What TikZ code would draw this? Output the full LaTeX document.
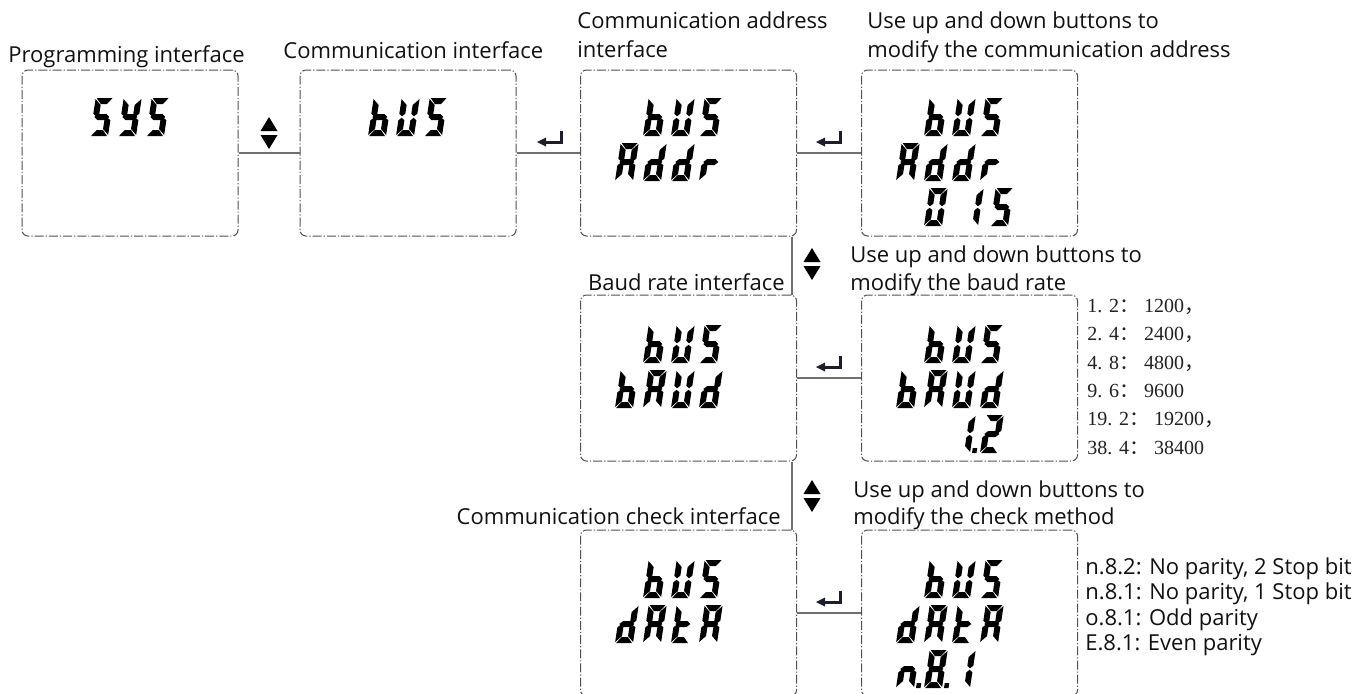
\documentclass[tikz,border=0pt]{standalone}
\usepackage{fontspec}
\setmainfont{Open Sans}
\newfontfamily\serifnum{Liberation Serif}
\newfontfamily\cjk{Noto Sans CJK SC}
\definecolor{boxgray}{HTML}{505050}
\definecolor{linegray}{HTML}{707070}
\definecolor{keyink}{HTML}{1C1E2C}
\definecolor{txt}{HTML}{111111}
\definecolor{numtxt}{HTML}{222222}

% seven-segment pieces, local units: origin at glyph bottom-left, y grows downwards
\newcommand\Sga{\fill (1,-38) -- (17,-38) -- (12,-32) -- (6,-32) -- cycle;}
\newcommand\Sgd{\fill (1,0) -- (17,0) -- (12,-6) -- (6,-6) -- cycle;}
\newcommand\Sgg{\fill (1.4,-19) -- (5,-22) -- (13,-22) -- (16.6,-19) -- (13,-16) -- (5,-16) -- cycle;}
\newcommand\Sgf{\fill (0,-37) -- (6,-31) -- (6,-22.3) -- (3,-19.8) -- (0,-22.3) -- cycle;}
\newcommand\Sgb{\fill (18,-37) -- (18,-22.3) -- (15,-19.8) -- (12,-22.3) -- (12,-31) -- cycle;}
\newcommand\Sge{\fill (0,-1) -- (0,-15.7) -- (3,-18.2) -- (6,-15.7) -- (6,-7) -- cycle;}
\newcommand\Sgc{\fill (18,-1) -- (18,-15.7) -- (15,-18.2) -- (12,-15.7) -- (12,-7) -- cycle;}
\newcommand\Sgp{\fill (20,-5) rectangle (24.5,0);}
% one slanted LCD character: x, y of its bottom-left corner, lit segments
\newcommand\lcd[3]{\begin{scope}[shift={(#1,#2)},xslant=0.15]
  \foreach \s in {#3}{\csname Sg\s\endcsname}\end{scope}}
% up / down key sign centred at x, top at y
\newcommand\updown[2]{%
  \fill (#1,#2) -- (#1+8.5,#2+14) -- (#1-8.5,#2+14) -- cycle;
  \fill (#1-8.5,#2+18) -- (#1+8.5,#2+18) -- (#1,#2+32) -- cycle;}
% enter key sign, top-right corner at x, y
\newcommand\enterkey[2]{%
  \fill[keyink] (#1,#2) rectangle (#1-3,#2+12.5);
  \fill[keyink] (#1,#2+9.5) rectangle (#1-19,#2+12.5);
  \fill[keyink] (#1-26,#2+11) -- (#1-17,#2+6.5) -- (#1-17,#2+15.5) -- cycle;}

\begin{document}
\begin{tikzpicture}[x=0.5pt,y=-0.5pt,
  lcdbox/.style={draw=boxgray, line width=0.5pt, rounded corners=3pt,
    dash pattern=on 4.5pt off 1pt on 0.6pt off 1pt,
    minimum width=108pt, minimum height=83pt, inner sep=0pt},
  link/.style={draw=linegray, line width=0.65pt},
  lbl/.style={font=\fontsize{11}{14}\selectfont, inner sep=0pt, text=txt},
  baud/.style={font=\serifnum\fontsize{10}{12}\selectfont, inner sep=0pt, text=numtxt},
  parity/.style={font=\fontsize{11}{13}\selectfont, inner sep=0pt, text=txt}]
\useasboundingbox (0,0) rectangle (1360,693);
\clip (0,0) rectangle (1360,693);
\fill[white] (0,0) rectangle (1360,693);

% display frames
\node[lcdbox] (b1) at (130,153) {};
\node[lcdbox] (b2) at (408,153) {};
\node[lcdbox] (b3) at (688.5,153) {};
\node[lcdbox] (b4) at (969.5,153) {};
\node[lcdbox] (b5) at (688.5,378) {};
\node[lcdbox] (b6) at (969.5,378) {};
\node[lcdbox] (b7) at (688.5,613) {};
\node[lcdbox] (b8) at (969.5,613) {};

% connectors
\draw[link] (b1.east) -- (b2.west);
\draw[link] (b2.east) -- (b3.west);
\draw[link] (b3.east) -- (b4.west);
\draw[link] (b5.east) -- (b6.west);
\draw[link] (b7.east) -- (b8.west);
\draw[link] ([xshift=-2.5pt]b3.south east) -- ([xshift=-2.5pt]b5.north east);
\draw[link] ([xshift=-2.5pt]b5.south east) -- ([xshift=-2.5pt]b7.north east);

% key signs
\updown{269}{117}
\updown{812}{248}
\updown{812}{480}
\enterkey{563}{131}
\enterkey{842}{131}
\enterkey{842}{356}
\enterkey{842}{591}

% captions
\node[lbl, anchor=base west] (tprog) at (8,62) {Programming interface};
\node[lbl, anchor=base west] (tcomm) at (283,58) {Communication interface};
\node[lbl, anchor=base west] (taddr1) at (577,28) {Communication address};
\node[lbl, anchor=base west] (taddr2) at (577,57) {interface};
\node[lbl, anchor=base west] (tmod1) at (867,28) {Use up and down buttons to};
\node[lbl, anchor=base west] (tmod2) at (867,57) {modify the communication address};
\node[lbl, anchor=base east] (tbaud) at (785,290) {Baud rate interface};
\node[lbl, anchor=base west] (tbm1) at (850,262) {Use up and down buttons to};
\node[lbl, anchor=base west] (tbm2) at (850,290) {modify the baud rate};
\node[lbl, anchor=base east] (tchk) at (781,524) {Communication check interface};
\node[lbl, anchor=base west] (tcm1) at (853,497) {Use up and down buttons to};
\node[lbl, anchor=base west] (tcm2) at (853,524) {modify the check method};

% baud rate choices
\node[baud, anchor=base west] (r1) at (1087,312) {1. 2{\cjk ：} 1200{\cjk ，}};
\node[baud, anchor=base west] (r2) at (1087,340) {2. 4{\cjk ：} 2400{\cjk ，}};
\node[baud, anchor=base west] (r3) at (1087,369) {4. 8{\cjk ：} 4800{\cjk ，}};
\node[baud, anchor=base west] (r4) at (1087,397) {9. 6{\cjk ：} 9600};
\node[baud, anchor=base west] (r5) at (1087,425) {19. 2{\cjk ：} 19200{\cjk ，}};
\node[baud, anchor=base west] (r6) at (1087,454) {38. 4{\cjk ：} 38400};

% check method choices
\node[parity, anchor=base west] (p1) at (1085,574) {n.8.2: No parity, 2 Stop bit};
\node[parity, anchor=base west] (p2) at (1085,599.5) {n.8.1: No parity, 1 Stop bit};
\node[parity, anchor=base west] (p3) at (1085,625) {o.8.1: Odd parity};
\node[parity, anchor=base west] (p4) at (1085,650.5) {E.8.1: Even parity};

% display contents
% SYS
\lcd{90}{136}{a,f,g,c,d}
\lcd{118}{136}{f,b,g,c,d}
\lcd{146}{136}{a,f,g,c,d}
% bUS
\lcd{368}{136}{f,e,g,c,d}
\lcd{396}{136}{f,b,e,c,d}
\lcd{424}{136}{a,f,g,c,d}
% bUS / Addr
\lcd{643}{136}{f,e,g,c,d}
\lcd{671}{136}{f,b,e,c,d}
\lcd{699}{136}{a,f,g,c,d}
\lcd{615}{181}{a,b,c,e,f,g}
\lcd{643}{181}{b,c,d,e,g}
\lcd{671}{181}{b,c,d,e,g}
\lcd{699}{181}{e,g}
% bUS / Addr / 015
\lcd{924}{136}{f,e,g,c,d}
\lcd{952}{136}{f,b,e,c,d}
\lcd{980}{136}{a,f,g,c,d}
\lcd{896}{181}{a,b,c,e,f,g}
\lcd{924}{181}{b,c,d,e,g}
\lcd{952}{181}{b,c,d,e,g}
\lcd{980}{181}{e,g}
\lcd{924}{226}{a,b,c,d,e,f}
\lcd{960}{226}{b,c}
\lcd{990}{226}{a,f,g,c,d}
% bUS / bAUd
\lcd{643}{363}{f,e,g,c,d}
\lcd{671}{363}{f,b,e,c,d}
\lcd{699}{363}{a,f,g,c,d}
\lcd{615}{408}{f,e,g,c,d}
\lcd{643}{408}{a,b,c,e,f,g}
\lcd{671}{408}{f,b,e,c,d}
\lcd{699}{408}{b,c,d,e,g}
% bUS / bAUd / 1.2
\lcd{924}{363}{f,e,g,c,d}
\lcd{952}{363}{f,b,e,c,d}
\lcd{980}{363}{a,f,g,c,d}
\lcd{896}{408}{f,e,g,c,d}
\lcd{924}{408}{a,b,c,e,f,g}
\lcd{952}{408}{f,b,e,c,d}
\lcd{980}{408}{b,c,d,e,g}
\lcd{952}{453}{b,c,p}
\lcd{980}{453}{a,b,g,e,d}
% bUS / dAtA
\lcd{643}{598}{f,e,g,c,d}
\lcd{671}{598}{f,b,e,c,d}
\lcd{699}{598}{a,f,g,c,d}
\lcd{615}{643}{b,c,d,e,g}
\lcd{643}{643}{a,b,c,e,f,g}
\lcd{671}{643}{f,e,d,g}
\lcd{699}{643}{a,b,c,e,f,g}
% bUS / dAtA / n.8.1
\lcd{924}{598}{f,e,g,c,d}
\lcd{952}{598}{f,b,e,c,d}
\lcd{980}{598}{a,f,g,c,d}
\lcd{896}{643}{b,c,d,e,g}
\lcd{924}{643}{a,b,c,e,f,g}
\lcd{952}{643}{f,e,d,g}
\lcd{980}{643}{a,b,c,e,f,g}
\lcd{896}{688}{e,g,c,p}
\lcd{924}{688}{a,b,c,d,e,f,g,p}
\lcd{952}{688}{b,c}
\end{tikzpicture}
\end{document}
